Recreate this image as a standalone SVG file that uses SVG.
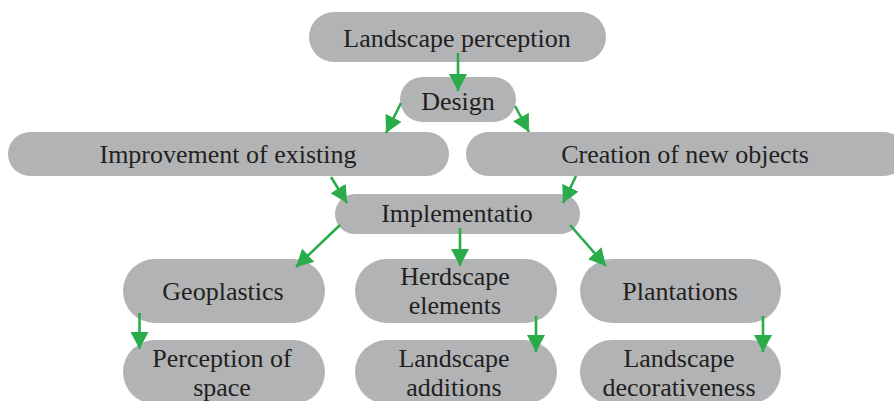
<svg xmlns="http://www.w3.org/2000/svg" width="894" height="401" viewBox="0 0 894 401">
<style>
.n{fill:#b2b3b5}
.t{font-family:"Liberation Serif","Times New Roman",serif;font-size:26px;fill:#231f20;text-anchor:middle}
.c line{stroke:#2aac4b;stroke-width:2.6;marker-end:url(#ah)}
</style>
<defs>
<marker id="ah" markerUnits="userSpaceOnUse" markerWidth="18" markerHeight="18" refX="17" refY="9" orient="auto" viewBox="0 0 18 18">
<path d="M0,0 L17,9 L0,18 z" fill="#2aac4b"/>
</marker>
</defs>
<rect width="894" height="401" fill="#ffffff"/>
<g id="n-perception"><rect class="n" x="309" y="12" width="297" height="50" rx="25"/><text class="t" x="457" y="47">Landscape perception</text></g>
<g id="n-design"><rect class="n" x="400" y="77" width="116" height="45" rx="22.5"/><text class="t" x="458" y="110">Design</text></g>
<g id="n-improvement"><rect class="n" x="8" y="132" width="441" height="44" rx="22"/><text class="t" x="228" y="163">Improvement of existing</text></g>
<g id="n-creation"><rect class="n" x="466" y="132" width="440" height="44" rx="22"/><text class="t" x="685" y="163">Creation of new objects</text></g>
<g id="n-implementation"><rect class="n" x="335" y="194" width="245" height="40" rx="20"/><text class="t" x="457" y="222">Implementatio</text></g>
<g id="n-geoplastics"><rect class="n" x="123" y="259" width="202" height="64" rx="32"/><text class="t" x="223" y="300">Geoplastics</text></g>
<g id="n-herdscape"><rect class="n" x="355" y="259" width="202" height="64" rx="32"/><text class="t" x="455" y="285">Herdscape</text><text class="t" x="455" y="314">elements</text></g>
<g id="n-plantations"><rect class="n" x="580" y="259" width="201" height="64" rx="32"/><text class="t" x="680" y="300">Plantations</text></g>
<g id="n-space"><rect class="n" x="123" y="340" width="202" height="64" rx="32"/><text class="t" x="222" y="367">Perception of</text><text class="t" x="222" y="396">space</text></g>
<g id="n-additions"><rect class="n" x="355" y="340" width="202" height="64" rx="32"/><text class="t" x="454" y="367">Landscape</text><text class="t" x="454" y="396">additions</text></g>
<g id="n-decorativeness"><rect class="n" x="580" y="340" width="201" height="64" rx="32"/><text class="t" x="679" y="367">Landscape</text><text class="t" x="679" y="396">decorativeness</text></g>
<g id="connectors" class="c">
<line x1="458" y1="53" x2="458" y2="91"/>
<line x1="401" y1="103" x2="386" y2="133"/>
<line x1="515" y1="106" x2="529" y2="132"/>
<line x1="331" y1="177" x2="347" y2="203"/>
<line x1="576" y1="176" x2="563" y2="203"/>
<line x1="340" y1="225" x2="296" y2="267"/>
<line x1="460" y1="228" x2="460" y2="266"/>
<line x1="570" y1="225" x2="606" y2="266"/>
<line x1="139.5" y1="313" x2="139.5" y2="349"/>
<line x1="536" y1="316" x2="536" y2="352"/>
<line x1="763" y1="316" x2="763" y2="352"/>
</g>
</svg>
